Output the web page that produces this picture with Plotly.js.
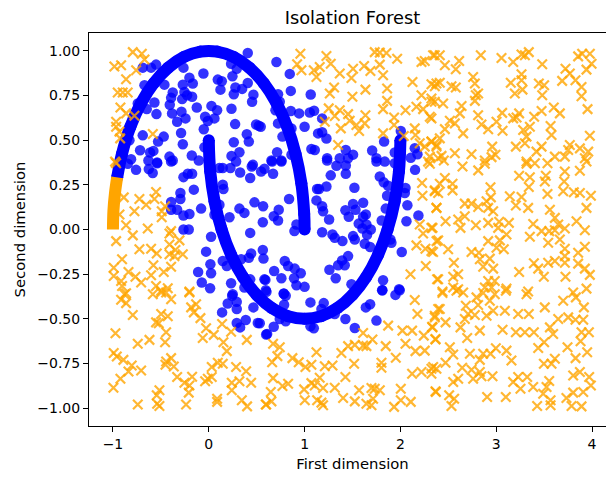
<!DOCTYPE html>
<html><head><meta charset="utf-8">
<script src="https://cdn.plot.ly/plotly-3.0.1.min.js"></script>
<style>html,body{margin:0;padding:0;background:#fff;width:606px;height:477px;overflow:hidden}</style></head>
<body><div id="chart" style="width:620px;height:477px"></div>
<script>
const chartTitle = "Isolation Forest";
const xLabel = "First dimension";
const yLabel = "Second dimension";
const xTicks = [-1,0,1,2,3,4];
const yTicks = [-1,-0.75,-0.5,-0.25,0,0.25,0.5,0.75,1];

const moonOuterInlier = [[-.956,.292],[-.906,.423],[-.819,.574],[-.707,.707],[-.574,.819],[-.423,.906],[-.259,.966],[-.087,.996],[.087,.996],[.259,.966],[.423,.906],[.574,.819],[.707,.707],[.819,.574],[.906,.423],[.966,.259],[.996,.087],[1,0]];
const moonOuterOutlier = [[-1,0],[-.995,.105],[-.978,.208],[-.956,.292]];
const moonInner = [[0,.5],[.015,.326],[.06,.158],[.134,0],[.234,-.143],[.357,-.266],[.5,-.366],[.658,-.44],[.826,-.485],[1,-.5],[1.174,-.485],[1.342,-.44],[1.5,-.366],[1.643,-.266],[1.766,-.143],[1.866,0],[1.94,.158],[1.985,.326],[2,.5]];

const inliers = [[.407,.988],[-.264,.906],[-.55,.923],[-.689,.906],[-.602,.906],[-.056,.873],[.233,.928],[.292,.9],[.247,.858],[-.202,.85],[-.271,.811],[-.167,.817],[.094,.839],[.136,.83],[.122,.783],[.407,.82],[.278,.795],[.348,.787],[.261,.757],[.466,.755],[.452,.715],[-.463,.811],[-.671,.808],[-.376,.767],[-.393,.737],[-.254,.77],[-.226,.752],[-.174,.743],[-.278,.73],[-.567,.711],[-.407,.698],[-.125,.683],[.028,.692],[.087,.668],[.237,.676],[-.647,.674],[-.741,.705],[-.546,.646],[-.285,.659],[-.383,.65],[-.038,.631],[-.243,.622],[-.33,.603],[.059,.622],[-.01,.607],[.275,.59],[.494,.588],[.522,.581],[-.052,.561],[-.289,.54],[-.689,.527],[-.47,.52],[-.529,.492],[-.271,.477],[.397,.533],[.418,.492],[.261,.488],[-.045,.46],[-.717,.444],[-.578,.44],[-.612,.431],[-.81,.579],[-.828,.5],[.32,.432],[.237,.412],[-.177,.414],[-.104,.386],[-.41,.408],[-.376,.386],[-.63,.386],[-.539,.375],[-.811,.393],[.46,.362],
[.706,.938],[.845,.871],[.856,.776],[1.064,.756],[.654,.761],[.723,.757],[.741,.715],[.696,.668],[.856,.663],[.943,.65],[1.054,.655],[1.099,.665],[1.183,.622],[1,.575],[.723,.594],[.863,.566],[.542,.575],[.769,.52],[1.141,.538],[1.183,.544],[1.228,.509],[1.071,.451],[1.106,.445],[1.235,.399],[1.43,.445],[1.506,.419],[1.367,.399],[1.454,.399],[1.705,.442],[1.75,.399],[1.837,.38],[1.83,.492],[2.004,.551],[2.15,.455],[2.108,.401],[2.178,.421],[1.941,.431],[.713,.432],[.654,.386],[.758,.386],[.863,.418],
[-.845,.368],[-.759,.334],[-.626,.338],[-.585,.316],[-.539,.371],[-.393,.381],[-.264,.293],[-.219,.312],[-.174,.312],[-.296,.204],[-.156,.223],[-.296,.171],[-.393,.154],[-.393,.111],[-.33,.111],[-.202,.087],[-.264,.078],[-.08,.117],[-.264,0],[-.209,0],[.024,-.041],[-.028,-.124],[-.111,-.238],[.024,-.245],[.017,-.195],[-.073,-.297],[.014,-.329],[.233,-.301],[.25,-.362],[.432,-.019],[.216,.069],[.32,.117],[.372,.093],[.477,.152],[.567,.13],[.564,.041],[.146,.251],[.153,.227],[.564,-.115],[.571,-.163],[.442,-.134],[.418,-.158],[.338,-.167],[.146,-.176],[.188,-.204],[.111,.139],[.059,.083],[.581,-.279],[.432,-.279],[.372,-.325],[.146,.344],[.226,.344],[.327,.319],[.432,.288],[.449,.353],[.546,.325],[.581,.34],[.285,.381],[.111,.344],
[.661,.381],[.758,.381],[.671,.312],[.73,.111],[.678,.074],[.723,.05],[.838,.171],[.915,.028],[.894,-.009],[1.183,-.015],[1.273,.303],[1.235,.386],[1.332,.357],[1.43,.358],[1.43,.312],[1.228,.241],[1.13,.227],[1.151,.227],[1.52,.234],[1.124,.163],[1.183,.13],[1.193,.102],[1.256,.056],[1.426,.108],[1.506,.143],[1.531,.111],[1.611,.15],[1.461,.071],[1.639,.084],[1.611,.071],[1.565,.033],[1.645,.028],[1.604,.006],[1.691,0],[1.652,-.03],[1.506,-.037],[1.524,-.056],[1.291,-.028],[1.315,-.046],[1.395,-.065],[1.628,-.08],[1.684,-.098],[1.454,-.149],[1.391,-.173],[1.35,-.2],[1.419,-.2],[1.259,-.225],[1.325,-.273],[1.805,.05],[1.847,.117],[1.861,.189],[2.053,.232],[2.046,.204],[2.073,.136],[2.063,.046],[2.188,.078],[2.153,.334],[1.785,.297],[1.826,.264],[1.872,.245],[1.896,-.056],[1.906,-.074],[2.014,-.126],[.793,-.176],[.828,-.204],[.682,-.232],[.897,-.219],[.96,-.245],[.89,-.273],[.758,-.273],[.591,-.282],[.595,-.34],[.915,-.312],[1,-.321],[1.489,-.306],[1.819,-.284],[1.809,-.34],[1.986,-.334],[.783,-.358],[1.941,.371],[1.75,.381],
[.244,-.371],[.198,-.414],[.292,-.405],[.292,-.445],[.139,-.464],[.292,-.523],[.327,-.548],[.386,-.507],[.512,-.523],[.466,-.436],[.599,-.588],
[.602,-.349],[.783,-.36],[.803,-.371],[.786,-.421],[1.061,-.408],[1.2,-.412],[1.176,-.445],[1.315,-.473],[1.639,-.436],[1.684,-.418],[1.812,-.34],[1.948,-.366],[1.993,-.34],[1.75,-.51],[1.426,-.501],[1.524,-.551],[1.061,-.542],[1.096,-.553],[.678,-.544],[.609,-.585],[.532,-.525],[.803,-.514],[.741,-.501]];

const outliers = [[-.793,.993],[-.699,.984],[-.671,.952],[-.985,.913],[-.915,.919],[-.758,.891],[-.863,.841],[-.95,.767],[-.898,.767],[-.846,.767],[-.922,.683],[-.863,.65],[-.776,.637],[-.967,.603],[-.967,.575],[-.932,.548],[-.925,.51],[-.584,.535],[-.978,.38],
[.956,.984],[.922,.925],[.967,.891],[1.096,.891],[1.158,.91],[1.124,.854],[1.228,.971],[1.273,.928],[1.367,.873],[1.506,.9],[1.489,.848],[1.621,.915],[1.687,.887],[1.785,.923],[1.819,.863],[1.732,.993],[1.785,.99],[1.854,.988],[1.966,.956],[2.126,.826],[1.635,.783],[1.308,.795],[1.263,.761],[1.499,.743],[1.861,.789],[1.861,.72],[1.819,.674],[2.053,.668],[1.252,.678],[1.367,.668],[1.315,.635],[1.454,.646],[1.635,.64],[1.211,.603],[1.378,.566],[1.471,.609],[1.541,.585],[1.569,.551],[1.628,.594],[1.934,.627],[1.934,.585],[1.819,.538],[2.035,.523],[2.15,.566],[2.157,.529],[1.35,.473],[2.22,.938],[2.254,.943],[2.341,.975],[2.324,.813],[2.22,.752],[2.324,.733],[2.359,.715],[2.167,.687],[2.237,.674],[2.307,.631],[2.376,.817],[2.202,.483],[2.324,.492],[2.254,.464],[2.307,.408],[2.376,.464],[2.289,.38],[2.394,.399],
[2.359,.975],[2.411,.975],[2.464,.919],[2.578,.897],[2.613,.943],[2.839,.975],[3.055,.96],[3.177,.938],[3.264,.98],[3.34,.993],[3.299,.975],[3.48,.925],[2.759,.854],[2.777,.817],[2.411,.821],[2.359,.802],[2.533,.802],[2.578,.795],[3.152,.821],[3.264,.869],[3.264,.835],[3.274,.783],[3.194,.761],[3.445,.817],[3.5,.808],[3.48,.752],[2.787,.752],[2.811,.761],[2.777,.72],[2.324,.715],[2.446,.705],[2.638,.691],[2.62,.65],[2.324,.622],[2.811,.64],[2.846,.588],[2.916,.561],[3.003,.603],[3.062,.653],[3.066,.553],[3.177,.622],[3.239,.65],[3.212,.627],[3.396,.631],[3.473,.663],[3.601,.683],[3.664,.65],[3.351,.575],[3.281,.557],[3.316,.52],[3.299,.483],[3.205,.464],[3.567,.579],[3.577,.529],[3.977,.525],[3.953,.674],[3.89,.798],[3.89,.746],[3.827,.835],[3.768,.873],[3.723,.9],[3.688,.832],[3.855,.969],[3.977,.984],[3.995,.928],[3.942,.895],[3.897,.984],[2.516,.609],[2.464,.562],[2.568,.594],[2.655,.538],[2.411,.51],[2.324,.492],[2.377,.473],[2.429,.412],[2.568,.427],[2.742,.421],[2.958,.464],[2.992,.418],[2.881,.386],[2.951,.405],[3.473,.464],[3.42,.436],[3.316,.38],[3.612,.408],[3.716,.408],[3.768,.473],[3.873,.454],[3.96,.436],[3.925,.399],[3.751,.445],
[-.967,.371],[-.967,-.065],[-.887,.18],[-.724,.171],[-.55,.21],[-.567,.171],[-.654,.139],[-.776,.102],[-.932,.084],[-.456,.13],[-.491,.102],[-.491,.069],[-.863,.024],[-.637,.006],[-.793,-.033],[-.393,-.009],[-.41,-.022],[-.306,-.061],[-.41,-.084],[-.724,-.111],[-.602,-.108],[-.543,-.134],[-.348,-.115],[-.41,-.139],[-.358,-.149],[-.271,-.139],[-.905,-.167],[-.578,-.2],[-.393,-.208],[-.47,-.238],[-.992,-.214],[-.992,-.26],[-.838,-.238],[-.765,-.264],[-.602,-.256],[-.915,-.288],[-.706,-.297],[-.905,-.316],[-.55,-.316],[-.428,-.329],[-.497,-.343],[-.202,-.347],[-.863,-.357],
[2.307,.368],[2.226,.26],[2.359,.214],[2.23,.189],[2.376,.121],[2.202,.028],[2.324,.009],[2.237,-.022],[2.394,-.061],[2.167,-.089],[2.261,-.108],[2.341,-.126],[2.265,-.204],[2.105,-.251],[2.383,-.279],
[2.453,.386],[2.648,.353],[2.812,.331],[2.881,.368],[3.316,.368],[3.403,.371],[3.535,.371],[3.716,.325],[3.873,.329],[3.942,.381],[3.239,.301],[3.351,.293],[3.34,.238],[3.518,.301],[3.507,.269],[3.709,.269],[3.699,.214],[3.535,.199],[2.464,.288],[2.544,.256],[2.544,.219],[2.411,.256],[2.359,.219],[2.394,.204],[2.94,.236],[2.944,.18],[3.142,.186],[3.264,.182],[3.205,.134],[3.333,.121],[3.81,.208],[3.873,.204],[3.988,.189],[3.942,.121],[2.672,.145],[2.742,.145],[2.812,.126],[2.899,.158],[2.916,.121],[2.968,.102],[2.377,.121],[3.56,.111],[2.672,.074],[2.603,.056],[2.471,.046],[2.627,.009],[2.787,.024],[2.916,.037],[3.031,.043],[3.132,.037],[3.02,.009],[3.107,-.028],[2.335,.009],[3.386,.031],[3.351,-.041],[3.473,-.009],[3.553,-.009],[3.612,.065],[3.647,.028],[3.612,-.004],[3.716,.006],[3.838,.046],[3.925,-.004],[3.542,-.074],[3.664,-.056],[2.377,-.065],[2.324,-.121],[2.498,-.111],[2.916,-.065],[3.038,-.061],[3.003,-.102],[3.079,-.111],[2.742,-.126],[2.819,-.13],[2.829,-.167],[2.933,-.163],[2.864,-.208],[2.968,-.219],[2.558,-.186],[3.716,-.108],[3.716,-.149],[3.925,-.097],[3.855,-.13],[3.542,-.186],[3.612,-.176],[3.716,-.186],[3.393,-.189],[3.438,-.219],[3.497,-.264],[3.239,-.238],[3.855,-.191],[3.925,-.219],[3.977,-.254],[3.723,-.264],[2.603,-.251],[2.551,-.264],[2.394,-.279],[2.551,-.325],[2.603,-.334],[2.439,-.347],[2.916,-.288],[2.985,-.288],[2.951,-.325],[2.881,-.325],[3.107,-.331],[3.333,-.347],[3.942,-.331],[3.803,-.353],
[-.88,-.362],[-.915,-.393],[-.863,-.412],[-.584,-.362],[-.497,-.353],[-.445,-.353],[-.393,-.39],[-.202,-.353],[-.132,-.418],[-.184,-.436],[-.156,-.464],[-.087,-.496],[-.793,-.479],[-.497,-.473],[-.428,-.486],[-.55,-.52],[-.522,-.525],[-.974,-.581],[-.741,-.64],[-.619,-.618],[-.445,-.575],[-.456,-.631],[-.028,-.553],[-.063,-.607],[.052,-.59],[.139,-.529],[.233,-.572],[.153,-.631],[.397,-.618],[.188,-.681],[-.992,-.691],[-.96,-.711],[-.891,-.73],[-.804,-.761],[-.838,-.795],[-.706,-.789],[-.922,-.835],[-.995,-.886],[-.445,-.739],[-.393,-.72],[-.452,-.757],[-.365,-.767],[-.33,-.826],[-.254,-.858],[-.174,-.824],[-.202,-.873],[-.209,-.913],[-.038,-.85],[.031,-.826],[-.01,-.835],[.031,-.77],[.094,-.746],[.146,-.752],[.285,-.77],[.39,-.793],[.442,-.858],[.32,-.85],[.24,-.858],[.24,-.9],[.345,-.956],[.4,-.99],[.599,-.98],[-.515,-.9],[-.543,-.928],[-.539,-.975],[-.515,-.988],[-.741,-.98],[-.237,-.98],[.087,-.947],[.087,-.965],
[.671,-.64],[.741,-.659],[.716,-.709],[.661,-.743],[.873,-.72],[.939,-.743],[1.009,-.77],[1.071,-.757],[1.124,-.687],[1.211,-.765],[1.291,-.761],[1.384,-.691],[1.454,-.653],[1.524,-.646],[1.517,-.752],[1.611,-.579],[1.708,-.616],[1.611,-.65],[1.645,-.653],[1.847,-.653],[1.872,-.538],[1.952,-.718],[1.802,-.746],[1.802,-.774],[2.053,-.64],[2.021,-.566],[2.122,-.566],[2.15,-.395],[2.178,-.473],[2.331,-.544],[2.366,-.616],[2.244,-.594],[2.157,-.681],[2.254,-.678],[2.359,-.492],[2.394,-.445],[2.122,-.808],[2.22,-.798],[2.324,-.78],[2.324,-.808],[2.376,-.78],[2.366,-.906],[.671,-.832],[.769,-.876],[.828,-.863],[.647,-.91],[.654,-.962],[.595,-.98],[.995,-.895],[1.002,-.956],[1.071,-.86],[1.106,-.873],[1.158,-.83],[1.193,-.887],[1.315,-.886],[1.426,-.826],[1.402,-.943],[1.131,-.956],[1.176,-.969],[1.193,-.984],[1.524,-.962],[1.569,-.9],[1.698,-.887],[1.732,-.891],[1.785,-.9],[1.715,-.947],[1.645,-.975],[1.698,-.984],[2.004,-.891],[2.004,-.956],[2.108,-.965],[1.934,-.993],
[2.439,-.356],[2.585,-.343],[2.655,-.353],[2.794,-.38],[2.864,-.356],[2.985,-.362],[3.1,-.343],[3.316,-.362],[2.933,-.399],[2.811,-.423],[2.683,-.427],[2.411,-.445],[2.359,-.483],[2.777,-.479],[2.707,-.473],[2.672,-.501],[2.899,-.483],[2.968,-.455],[3.09,-.455],[3.229,-.473],[3.34,-.473],[3.507,-.436],[3.699,-.399],[3.831,-.38],[3.915,-.436],[3.647,-.501],[3.751,-.492],[3.827,-.505],[3.908,-.505],[2.471,-.52],[2.627,-.548],[2.335,-.548],[2.829,-.566],[3.066,-.561],[3.205,-.575],[3.299,-.575],[3.393,-.575],[3.56,-.548],[3.594,-.585],[3.967,-.575],[3.89,-.575],[3.88,-.626],[2.366,-.613],[2.697,-.607],[3.5,-.631],[3.438,-.663],[3.744,-.659],[2.516,-.659],[2.551,-.7],[2.725,-.696],[2.864,-.696],[2.829,-.73],[2.94,-.696],[2.996,-.665],[3.107,-.678],[3.159,-.733],[3.949,-.687],[3.828,-.72],[3.612,-.724],[3.497,-.752],[3.577,-.752],[2.471,-.746],[2.342,-.77],[2.645,-.774],[2.742,-.785],[2.829,-.798],[2.603,-.835],[2.551,-.854],[2.759,-.835],[2.846,-.821],[2.961,-.822],[3.177,-.854],[3.229,-.826],[3.323,-.826],[3.253,-.891],[3.386,-.882],[3.49,-.919],[3.525,-.882],[3.553,-.848],[3.803,-.817],[3.873,-.798],[3.97,-.826],[3.988,-.873],[3.908,-.91],[3.803,-.913],[3.733,-.943],[2.37,-.91],[2.509,-.928],[2.561,-.947],[2.533,-.988],[2.905,-.938],[3.1,-.938],[3.567,-.956],[3.567,-.984],[3.427,-.988],[3.786,-.988],[3.89,-.99]];

const col = (rows, i) => rows.map(r => r[i]);
const moonTrace = (rows, color) => ({x: col(rows,0), y: col(rows,1), mode:'lines+markers', type:'scatter',
  line:{color:color, width:12, shape:'spline', smoothing:1}, marker:{color:color, size:12}, hoverinfo:'skip'});

const traces = [
  {x: col(inliers,0), y: col(inliers,1), mode:'markers', type:'scatter',
   marker:{color:'rgba(0,0,255,0.8)', size:10.5, line:{width:0}}},
  moonTrace(moonOuterInlier,'#0000ff'),
  moonTrace(moonInner,'#0000ff'),
  {x: col(outliers,0), y: col(outliers,1), mode:'markers', type:'scatter',
   marker:{symbol:'x-thin', color:'rgba(255,165,0,0.8)', size:9.5, line:{color:'rgba(255,165,0,0.8)', width:2.2}}},
  {x: col(moonOuterOutlier,0), y: col(moonOuterOutlier,1), mode:'lines', type:'scatter',
   line:{color:'#ffa500', width:12, shape:'spline'}}
];

const axisBase = {showgrid:false, zeroline:false, showline:true, mirror:true, linecolor:'#000', linewidth:1,
  ticks:'outside', ticklen:5, tickwidth:1, tickcolor:'#000', tickfont:{size:14, color:'#000'}};

Plotly.newPlot('chart', traces, {
  width:620, height:477, showlegend:false, paper_bgcolor:'#fff', plot_bgcolor:'#fff',
  font:{family:'"DejaVu Sans", sans-serif', color:'#000'},
  title:{text:chartTitle, font:{size:17.8}, x:0.5, xref:'paper', xanchor:'center', y:0.9625, yanchor:'middle'},
  margin:{l:88.5, r:4, t:32.5, b:51, pad:0},
  xaxis:Object.assign({}, axisBase, {range:[-1.25,4.25], tickvals:xTicks, ticktext:xTicks.map(v=>v<0?'\u2212'+Math.abs(v):String(v)),
    title:{text:xLabel, font:{size:14.8}, standoff:7}}),
  yaxis:Object.assign({}, axisBase, {range:[-1.1,1.1], tickvals:yTicks, ticktext:yTicks.map(v=>(v<0?'\u2212':'')+Math.abs(v).toFixed(2)),
    title:{text:yLabel, font:{size:14.8}, standoff:8}})
}, {displayModeBar:false});
</script></body></html>
